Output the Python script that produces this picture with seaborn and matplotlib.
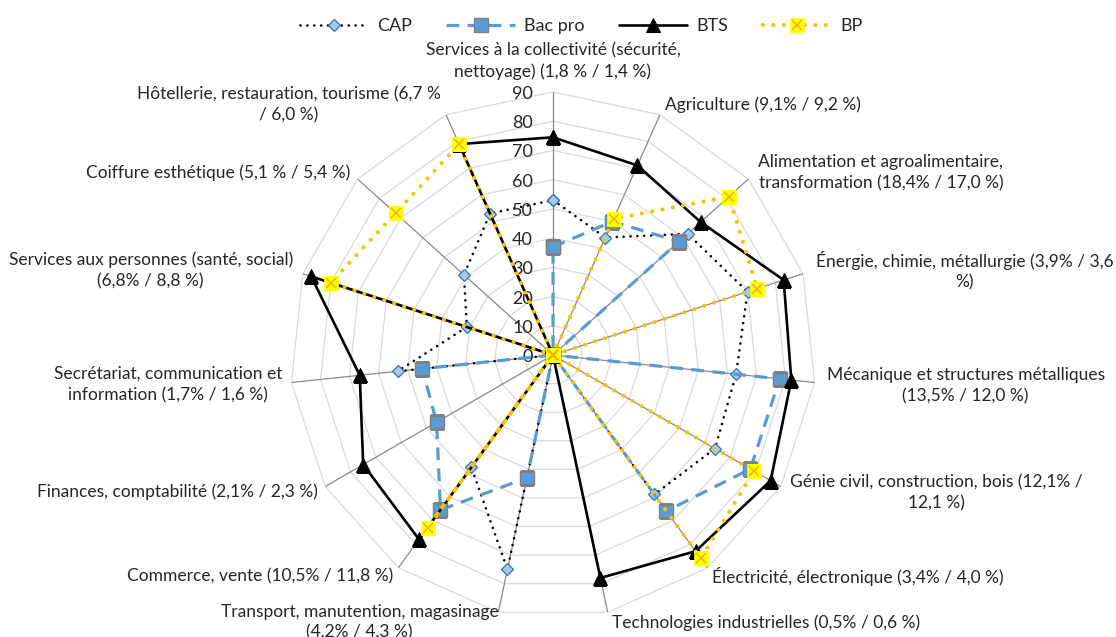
import numpy as np
import pandas as pd
import matplotlib
matplotlib.use("Agg")
import matplotlib.pyplot as plt
import seaborn as sns
from matplotlib.legend_handler import HandlerTuple

# ---------------- data ----------------
categories = [
    "Services à la collectivité (sécurité,\nnettoyage) (1,8 % / 1,4 %)",
    "Agriculture (9,1% / 9,2 %)",
    "Alimentation et agroalimentaire,\ntransformation (18,4% / 17,0 %)",
    "Énergie, chimie, métallurgie (3,9% / 3,6\n%)",
    "Mécanique et structures métalliques\n(13,5% / 12,0 %)",
    "Génie civil, construction, bois (12,1% /\n12,1 %)",
    "Électricité, électronique (3,4% / 4,0 %)",
    "Technologies industrielles (0,5% / 0,6 %)",
    "Transport, manutention, magasinage\n(4,2% / 4,3 %)",
    "Commerce, vente (10,5% / 11,8 %)",
    "Finances, comptabilité (2,1% / 2,3 %)",
    "Secrétariat, communication et\ninformation (1,7% / 1,6 %)",
    "Services aux personnes (santé, social)\n(6,8% / 8,8 %)",
    "Coiffure esthétique (5,1 % / 5,4 %)",
    "Hôtellerie, restauration, tourisme (6,7 %\n/ 6,0 %)",
]
cap     = [53, 44, 62, 70, 63, 64, 59, 0, 75, 47.5, 0, 53.5, 31, 41, 53]
bac_pro = [37, 50, 58, 0, 78, 78, 66, 0, 43, 65.5, 46, 45, 0, 0, 0]
bts     = [74.5, 71, 68, 83, 82, 86, 83, 78, 0, 78, 75, 66.5, 87, 0, 79]
bp      = [0, 51, 81, 73.5, 0, 79.5, 86, 0, 0, 73, 0, 0, 80, 72.5, 79]
series_names = ["CAP", "Bac pro", "BTS", "BP"]
radial_ticks = [0, 10, 20, 30, 40, 50, 60, 70, 80, 90]

# ---------------- style ----------------
sns.set_theme(style="white")
plt.rcParams["font.family"] = ["Lato", "DejaVu Sans"]
FS = 12.5

W, H = 1116, 637
fig = plt.figure(figsize=(W / 100, H / 100), dpi=100)
R_PX = 263
cx, cy = 553, H - 355
ax = fig.add_axes([(cx - R_PX) / W, (cy - R_PX) / H, 2 * R_PX / W, 2 * R_PX / H],
                  projection="polar")
ax.set_theta_zero_location("N")
ax.set_theta_direction(-1)

n = len(categories)
angles = np.arange(n) * 2 * np.pi / n
closed = np.append(angles, 2 * np.pi)

# polygon grid rings and spokes
for lv in radial_ticks[1:]:
    ax.plot(closed, [lv] * (n + 1), color="#D9D9D9", linewidth=0.9, zorder=1)
for a in angles:
    ax.plot([a, a], [0, radial_ticks[-1]], color="#898989", linewidth=0.9, zorder=1)

# long-form table
values = {"CAP": cap, "Bac pro": bac_pro, "BTS": bts, "BP": bp}
rows = []
for s in series_names:
    for i, c in enumerate(categories):
        rows.append({"series": s, "category": c, "angle": angles[i], "value": values[s][i]})
df = pd.DataFrame(rows)


def closed_df(name):
    sub = df[df["series"] == name].reset_index(drop=True)
    first = sub.iloc[[0]].copy()
    first["angle"] = 2 * np.pi
    return pd.concat([sub, first], ignore_index=True)


styles = {
    "CAP": dict(color="black", linestyle=(0, (0.01, 2.6)), linewidth=1.9,
                dash_capstyle="round", marker="D", markersize=6.6,
                markerfacecolor="#A9C8E8", markeredgecolor="#2E75B6", markeredgewidth=0.9),
    "Bac pro": dict(color="#5B9BD5", linestyle=(0, (4, 2.6)), linewidth=2.3,
                    marker="s", markersize=9.5,
                    markerfacecolor="#5B9BD5", markeredgecolor="#7F7F7F", markeredgewidth=1.0),
    "BTS": dict(color="black", linestyle="-", linewidth=1.9,
                marker="^", markersize=9.5,
                markerfacecolor="black", markeredgecolor="black", markeredgewidth=0.75),
    "BP": dict(color="#FFC000", linestyle=(0, (0.01, 2.5)), linewidth=3.0,
               dash_capstyle="round", marker="s", markersize=10.5,
               markerfacecolor="#FFFF00", markeredgecolor="#FFFF00", markeredgewidth=0.5),
}

handles = []
for z, name in enumerate(series_names):
    sns.lineplot(data=closed_df(name), x="angle", y="value", sort=False, estimator=None,
                 ax=ax, zorder=3 + z, **styles[name])
    h = ax.lines[-1]
    if name == "BP":
        sns.lineplot(data=closed_df(name), x="angle", y="value", sort=False, estimator=None,
                     ax=ax, zorder=3 + z, color="#FFC000", linestyle="None",
                     marker="x", markersize=7.5, markeredgecolor="#F0B000",
                     markeredgewidth=1.1)
        h = (h, ax.lines[-1])
    handles.append(h)

ax.set_xlim(0, 2 * np.pi)
ax.set_ylim(0, radial_ticks[-1])
ax.set_xticks([])
ax.set_yticks([])
ax.grid(False)
ax.spines["polar"].set_visible(False)
ax.set_xlabel("")
ax.set_ylabel("")

# radial tick labels
for lv in radial_ticks:
    ax.annotate(str(lv), xy=(0, lv), xytext=(-20, -2), textcoords="offset pixels",
                ha="right", va="center", fontsize=FS + 0.5, color="#262626",
                annotation_clip=False)

# category labels
label_offsets = [(0, 31), (5, 10), (10, 6.5), (13, 3), (12, -3), (9, -6), (4, -9),
                 (4, -10), (0, -10), (-5, -9), (-7, -5), (-9, -2), (-10, 3), (-7, 6),
                 (-5, 9.5)]
label_ha = ["center", "left", "left", "left", "left", "left", "left", "left",
            "right", "right", "right", "right", "right", "right", "right"]
for i, c in enumerate(categories):
    ax.annotate(c, xy=(angles[i], radial_ticks[-1]), xytext=label_offsets[i],
                textcoords="offset pixels", ha=label_ha[i], va="center",
                multialignment="center", fontsize=FS, color="#262626",
                linespacing=1.38, annotation_clip=False)

fig.legend(handles, series_names, loc="center", bbox_to_anchor=(581 / W, 1 - 26 / H),
           ncol=4, frameon=False, fontsize=FS + 0.5, handlelength=3.8, handletextpad=0.5,
           columnspacing=1.9, numpoints=1,
           handler_map={tuple: HandlerTuple(ndivide=1)})

fig.savefig("out.png", dpi=100, facecolor="white")
